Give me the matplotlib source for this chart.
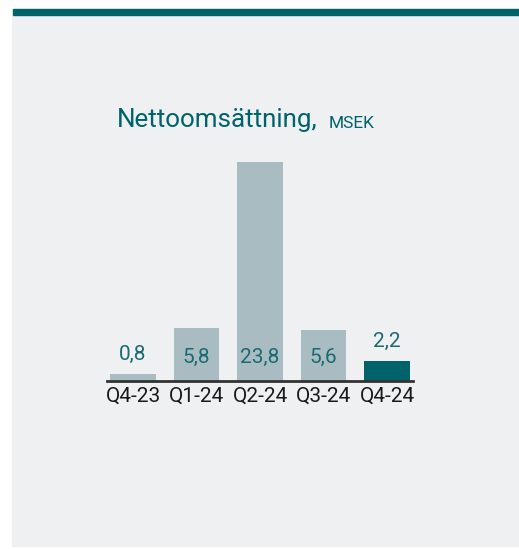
import matplotlib
matplotlib.use("Agg")
import matplotlib.pyplot as plt
from matplotlib import font_manager
from matplotlib.patches import Rectangle

# data
quarters = ["Q4-23", "Q1-24", "Q2-24", "Q3-24", "Q4-24"]
sales = [0.8, 5.8, 23.8, 5.6, 2.2]
labels = ["0,8", "5,8", "23,8", "5,6", "2,2"]

names = {f.name for f in font_manager.fontManager.ttflist}
font = "Liberation Sans Narrow" if "Liberation Sans Narrow" in names else "Roboto"
plt.rcParams["font.family"] = [font, "DejaVu Sans"]

teal = "#00626a"
grey_bar = "#a9bcc1"
panel = "#eff0f2"

fig = plt.figure(figsize=(5.19, 5.49), dpi=100, facecolor="white")

# panel background and top band
fig.patches.append(Rectangle((12/519, 3/549), 507/519, 531/549,
                             transform=fig.transFigure, color=panel, zorder=-2))
fig.patches.append(Rectangle((13/519, 534/549), 506/519, 6/549,
                             transform=fig.transFigure, color=teal, zorder=-1))

ax = fig.add_axes([107/519, 168/549, 306/519, 239/549])
ax.set_facecolor("none")

colors = [grey_bar] * (len(sales) - 1) + [teal]
x = range(len(quarters))
ax.bar(x, sales, width=0.72, color=colors, zorder=2)
ax.set_xlim(-0.41, 4.41)
ax.set_ylim(0, 26)

for i, (v, lab) in enumerate(zip(sales, labels)):
    if v > 4:
        ax.text(i, 2.6, lab, ha="center", va="center", color="#1b6a72",
                fontsize=15, zorder=3)
    else:
        ax.annotate(lab, (i, v), xytext=(0, 7), textcoords="offset points",
                    ha="center", va="bottom", color="#1b6a72", fontsize=15)

for s in ["top", "right", "left"]:
    ax.spines[s].set_visible(False)
ax.spines["bottom"].set_color("#333333")
ax.spines["bottom"].set_linewidth(2)
ax.set_yticks([])
ax.set_xticks(list(x))
ax.set_xticklabels(quarters, fontsize=15, color="#1a1a1a")
ax.tick_params(axis="x", length=0, pad=4)

fig.text(117/519, 1 - 120/549, "Nettoomsättning,", fontsize=18.7, color=teal,
         va="center", ha="left")
fig.text(329/519, 1 - 123/549, "MSEK", fontsize=12.5, color=teal,
         va="center", ha="left")

fig.savefig("out.png", dpi=100, facecolor="white")
